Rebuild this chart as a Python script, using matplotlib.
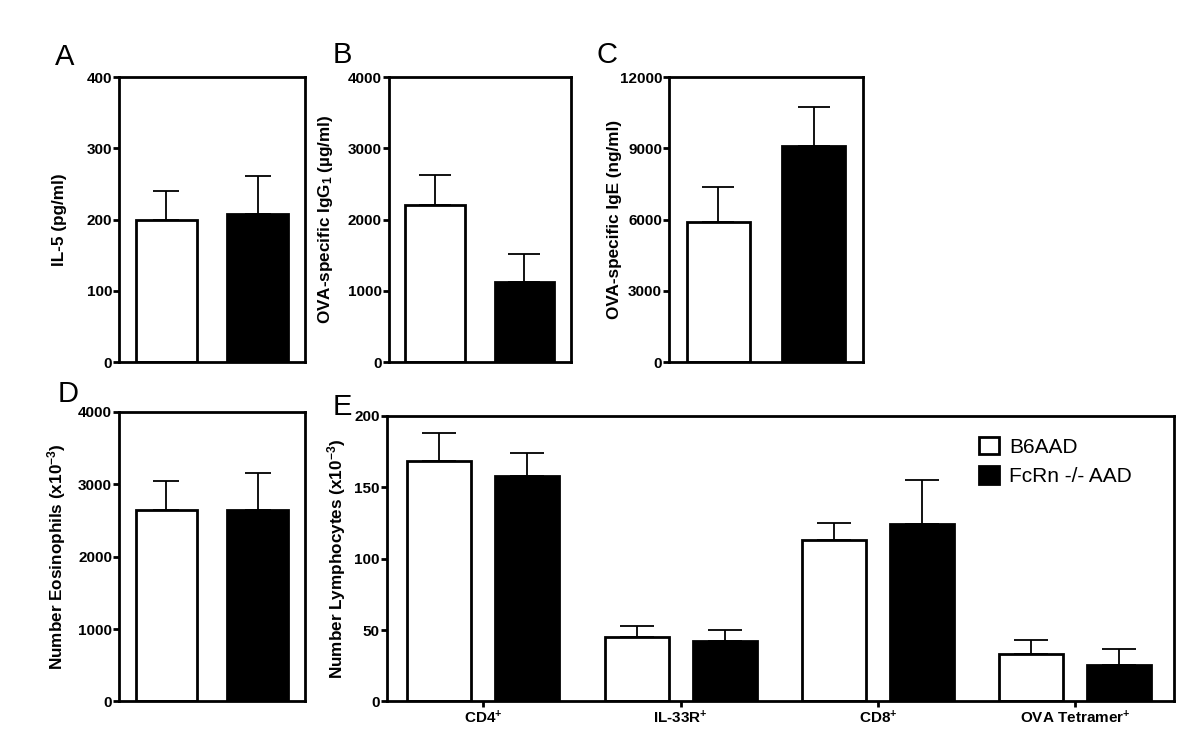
import numpy as np
import matplotlib
matplotlib.use("Agg")
import matplotlib.pyplot as plt
from matplotlib.patches import Patch

plt.rcParams["font.family"] = ["Liberation Sans", "DejaVu Sans"]
plt.rcParams["mathtext.fontset"] = "custom"
plt.rcParams["mathtext.rm"] = "Liberation Sans:bold"
plt.rcParams["mathtext.bf"] = "Liberation Sans:bold"
plt.rcParams["mathtext.default"] = "rm"

groups = ["B6AAD", "FcRn -/- AAD"]

il5_mean = [200, 208]
il5_err = [40, 53]

igg1_mean = [2210, 1120]
igg1_err = [410, 390]

ige_mean = [5900, 9100]
ige_err = [1450, 1650]

eos_mean = [2650, 2640]
eos_err = [400, 510]

lymph_cats = [r"CD4$^{+}$", r"IL-33R$^{+}$", r"CD8$^{+}$", r"OVA Tetramer$^{+}$"]
lymph_b6 = [168, 45, 113, 33]
lymph_b6_err = [20, 8, 12, 10]
lymph_fcrn = [158, 42, 124, 25.5]
lymph_fcrn_err = [16, 8, 31, 11.5]

colors = ["white", "black"]


def style_axes(ax, label_x):
    for s in ax.spines.values():
        s.set_linewidth(2)
    ax.tick_params(axis="y", width=2, length=4.5, labelsize=11, pad=0.5)
    for lab in ax.get_yticklabels():
        lab.set_fontweight("bold")
    ax.yaxis.set_label_coords(label_x, 0.5)


def two_bar_panel(ax, means, errs, ticks, ylabel, cap, label_x):
    x = np.arange(len(means))
    for i in x:
        ax.errorbar(x[i], means[i], yerr=[[0], [errs[i]]], fmt="none",
                    ecolor="black", elinewidth=1.3, capsize=cap, capthick=1.3, zorder=1)
    ax.bar(x, means, width=0.67, color=colors, edgecolor="black", linewidth=2, zorder=2)
    ax.set_xlim(-0.52, 1.52)
    ax.set_ylim(0, ticks[-1])
    ax.set_yticks(ticks)
    ax.set_xticks([])
    ax.set_ylabel(ylabel, fontsize=12.3, fontweight="bold")
    style_axes(ax, label_x)


fig = plt.figure(figsize=(12, 7.52), dpi=100)

axA = fig.add_axes([0.0992, 0.5186, 0.155, 0.379])
axB = fig.add_axes([0.324, 0.5186, 0.1517, 0.379])
axC = fig.add_axes([0.5575, 0.5186, 0.1617, 0.379])
axD = fig.add_axes([0.0992, 0.0672, 0.155, 0.385])
axE = fig.add_axes([0.3222, 0.0672, 0.656, 0.380])

two_bar_panel(axA, il5_mean, il5_err, [0, 100, 200, 300, 400], "IL-5 (pg/ml)",
              9.6, -0.28)
two_bar_panel(axB, igg1_mean, igg1_err, [0, 1000, 2000, 3000, 4000],
              r"OVA-specific IgG$_{1}$ (µg/ml)", 11.2, -0.297)
two_bar_panel(axC, ige_mean, ige_err, [0, 3000, 6000, 9000, 12000],
              "OVA-specific IgE (ng/ml)", 11.6, -0.242)
two_bar_panel(axD, eos_mean, eos_err, [0, 1000, 2000, 3000, 4000],
              r"Number Eosinophils (x10$^{-3}$)", 9.6, -0.274)

# panel E
xe = np.arange(len(lymph_cats))
off = 0.223
w = 0.325
axE.errorbar(xe - off, lymph_b6, yerr=[np.zeros(4), lymph_b6_err], fmt="none",
             ecolor="black", elinewidth=1.3, capsize=12, capthick=1.3, zorder=1)
axE.errorbar(xe + off, lymph_fcrn, yerr=[np.zeros(4), lymph_fcrn_err], fmt="none",
             ecolor="black", elinewidth=1.3, capsize=12, capthick=1.3, zorder=1)
axE.bar(xe - off, lymph_b6, width=w, color="white", edgecolor="black", linewidth=2, zorder=2)
axE.bar(xe + off, lymph_fcrn, width=w, color="black", edgecolor="black", linewidth=2, zorder=2)
axE.set_xlim(-0.49, 3.5)
axE.set_ylim(0, 200)
axE.set_yticks([0, 50, 100, 150, 200])
axE.set_xticks(xe)
axE.set_xticklabels(lymph_cats, fontsize=11, fontweight="bold")
axE.tick_params(axis="x", width=2, length=4, pad=1.5)
axE.set_ylabel(r"Number Lymphocytes (x10$^{-3}$)", fontsize=12.3, fontweight="bold")
style_axes(axE, -0.049)

handles = [Patch(facecolor=c, edgecolor="black", linewidth=2) for c in colors]
axE.legend(handles, groups, loc="upper left", bbox_to_anchor=(0.7526, 0.925),
           frameon=False, fontsize=15, handlelength=0.95, handleheight=0.9,
           handletextpad=0.5, labelspacing=0.45, borderpad=0, borderaxespad=0)

for lab, x, y in [("A", 0.046, 0.913), ("B", 0.277, 0.916), ("C", 0.497, 0.916),
                  ("D", 0.048, 0.466), ("E", 0.277, 0.448)]:
    fig.text(x, y, lab, fontsize=21)

fig.savefig("out.png", dpi=100)
